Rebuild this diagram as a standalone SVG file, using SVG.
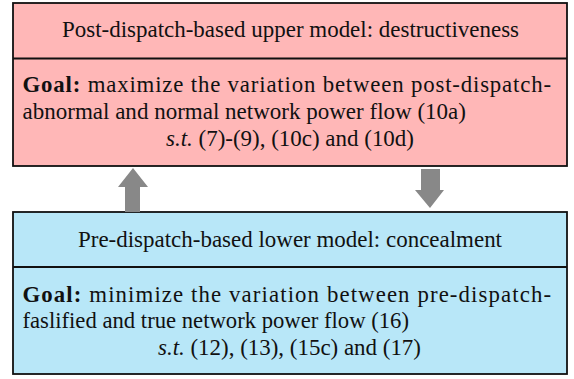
<svg xmlns="http://www.w3.org/2000/svg" width="574" height="379" viewBox="0 0 574 379">
<style>
.title{text-anchor:middle}
.up{fill:#ffb7b7;stroke:#111;stroke-width:1.8}
.lo{fill:#b8e7f8;stroke:#111;stroke-width:1.8}
.div{stroke:#111;stroke-width:1.8}
.arr{fill:#888}
</style>
<rect width="574" height="379" fill="#fff"/>
<g id="upper">
<rect class="up" x="13" y="3" width="554" height="163"/>
<line class="div" x1="13" y1="58.5" x2="567" y2="58.5"/>
<text class="title" x="290.5" y="37" font-family="'Liberation Serif', serif" font-size="22.8" fill="#111" textLength="457" lengthAdjust="spacingAndGlyphs">Post-dispatch-based upper model: destructiveness</text>
<text x="22.5" y="92" font-family="'Liberation Serif', serif" font-size="22.8" fill="#111" textLength="528.5" lengthAdjust="spacing"><tspan font-weight="bold">Goal:</tspan> maximize the variation between post-dispatch-</text>
<text x="22.5" y="119" font-family="'Liberation Serif', serif" font-size="22.8" fill="#111" textLength="443.5" lengthAdjust="spacingAndGlyphs">abnormal and normal network power flow (10a)</text>
<text class="title" x="290" y="146" font-family="'Liberation Serif', serif" font-size="22.8" fill="#111" textLength="248" lengthAdjust="spacingAndGlyphs"><tspan font-style="italic">s.t.</tspan> (7)-(9), (10c) and (10d)</text>
</g>
<g id="lower">
<rect class="lo" x="13" y="212" width="554" height="162"/>
<line class="div" x1="13" y1="267" x2="567" y2="267"/>
<text class="title" x="290" y="247" font-family="'Liberation Serif', serif" font-size="22.8" fill="#111" textLength="424" lengthAdjust="spacingAndGlyphs">Pre-dispatch-based lower model: concealment</text>
<text x="22.5" y="302" font-family="'Liberation Serif', serif" font-size="22.8" fill="#111" textLength="528.5" lengthAdjust="spacing"><tspan font-weight="bold">Goal:</tspan> minimize the variation between pre-dispatch-</text>
<text x="22.5" y="328" font-family="'Liberation Serif', serif" font-size="22.8" fill="#111" textLength="386.5" lengthAdjust="spacingAndGlyphs">faslified and true network power flow (16)</text>
<text class="title" x="289.5" y="355" font-family="'Liberation Serif', serif" font-size="22.8" fill="#111" textLength="263" lengthAdjust="spacingAndGlyphs"><tspan font-style="italic">s.t.</tspan> (12), (13), (15c) and (17)</text>
</g>
<g id="connectors">
<polygon class="arr" points="125,212 140,212 140,187 148,187 133,168 118,187 125,187"/>
<polygon class="arr" points="421,169 440,169 440,190 444,190 430,208 415,190 421,190"/>
</g>
</svg>
